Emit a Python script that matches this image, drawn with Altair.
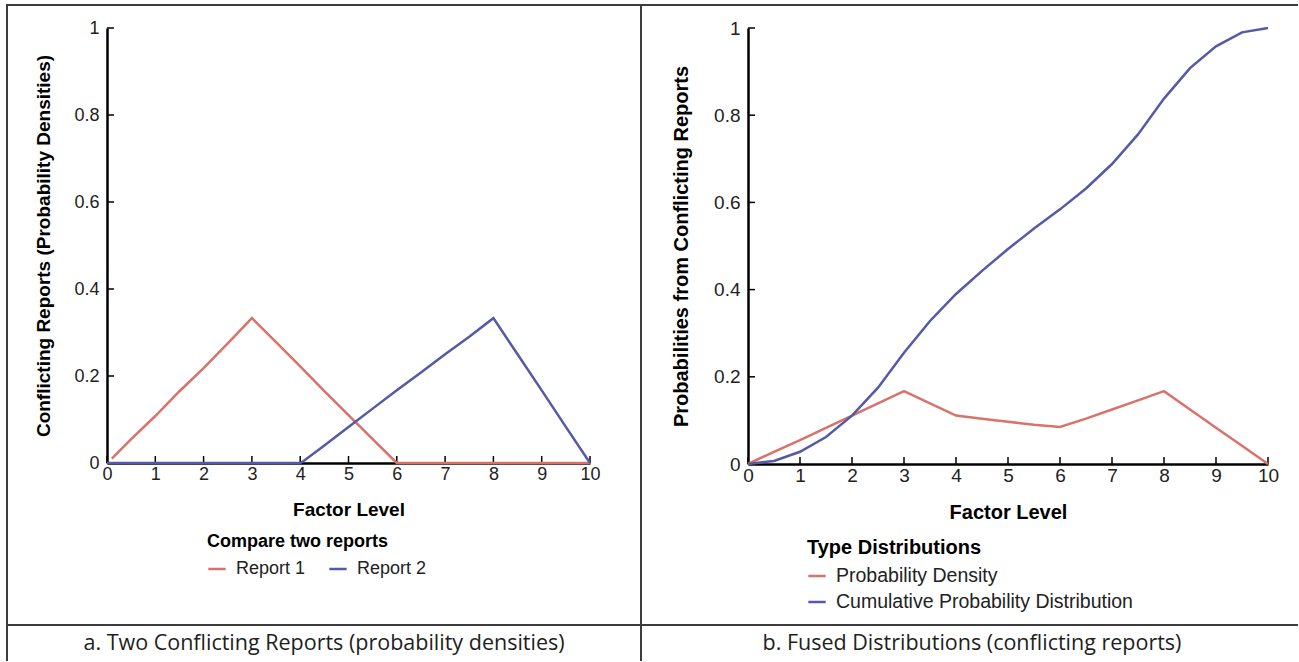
import altair as alt
import pandas as pd

# ---------------- data ----------------
factor_ticks = [0, 1, 2, 3, 4, 5, 6, 7, 8, 9, 10]
prob_ticks = [0, 0.2, 0.4, 0.6, 0.8, 1]

report1_x = [0.1, 0.5, 1, 1.5, 2, 2.5, 3, 3.5, 4, 4.5, 5, 5.5, 6, 7, 8, 9, 10]
report1_y = [0.01, 0.055, 0.108, 0.165, 0.218, 0.275, 0.333, 0.278, 0.222, 0.165, 0.11, 0.055, 0.0, 0, 0, 0, 0]
report2_x = [0, 1, 2, 3, 4, 4.05, 4.5, 5, 5.5, 6, 6.5, 7, 7.5, 8, 8.5, 9, 9.5, 10]
report2_y = [0, 0, 0, 0, 0, 0.003, 0.04, 0.083, 0.125, 0.167, 0.208, 0.25, 0.29, 0.333, 0.25, 0.167, 0.083, 0]

fused_x = [0, 0.5, 1, 1.5, 2, 2.5, 3, 3.5, 4, 4.5, 5, 5.5, 6, 6.5, 7, 7.5, 8, 8.5, 9, 9.5, 10]
density_y = [0, 0.028, 0.055, 0.083, 0.111, 0.139, 0.167, 0.139, 0.111, 0.104, 0.097, 0.09, 0.085,
             0.104, 0.125, 0.146, 0.167, 0.125, 0.083, 0.042, 0]
cumulative_y = [0, 0.007, 0.028, 0.062, 0.111, 0.175, 0.255, 0.328, 0.39, 0.443, 0.493, 0.54, 0.584,
                0.632, 0.688, 0.756, 0.838, 0.908, 0.958, 0.99, 1.0]

series_a = ["Report 1", "Report 2"]
series_b = ["Probability Density", "Cumulative Probability Distribution"]
legend_title_a = "Compare two reports"
legend_title_b = "Type Distributions"
ytitle_a = "Conflicting Reports (Probability Densities)"
ytitle_b = "Probabilities from Conflicting Reports"
xtitle = "Factor Level"
caption_a = "a. Two Conflicting Reports (probability densities)"
caption_b = "b. Fused Distributions (conflicting reports)"

RED = "#d7736a"
BLUE = "#5559a8"
FONT = "Liberation Sans"

df_a = pd.concat([
    pd.DataFrame({"x": report1_x, "y": report1_y, "s": series_a[0]}),
    pd.DataFrame({"x": report2_x, "y": report2_y, "s": series_a[1]}),
])
df_b = pd.concat([
    pd.DataFrame({"x": fused_x, "y": density_y, "s": series_b[0]}),
    pd.DataFrame({"x": fused_x, "y": cumulative_y, "s": series_b[1]}),
])
xt = pd.DataFrame({"t": factor_ticks})
yt = pd.DataFrame({"t": prob_ticks})
one = pd.DataFrame({"a": [0]})


def panel(df, w, h, series, legend_title, ytitle, legend_dir, lx, ly, caption, cap_x,
          fs_label, fs_title, fs_leg_label, fs_leg_title, ytitle_x, xtitle_y, frame=False):
    xs = alt.Scale(domain=[0, 10], nice=False, zero=False)
    ys = alt.Scale(domain=[0, 1], nice=False)
    xaxis = alt.Axis(values=factor_ticks, format="d", ticks=False, tickSize=0, grid=False,
                     labelPadding=2, labelFlush=False, labelOverlap=False,
                     labelFontSize=fs_label, titleFontSize=fs_title,
                     domainColor="black", domainWidth=2.5,
                     title=xtitle, titleX=w / 2, titleY=xtitle_y, titleBaseline="middle")
    yaxis = alt.Axis(values=prob_ticks, format=".1~f", ticks=False, tickSize=0, grid=False,
                     labelPadding=8, labelFlush=False, labelOverlap=False,
                     labelFontSize=fs_label, titleFontSize=fs_title,
                     domainColor="black", domainWidth=2.5,
                     title=ytitle, titleX=ytitle_x, titleY=h / 2, titleAngle=270,
                     titleBaseline="middle")
    lines = alt.Chart(df).mark_line(strokeWidth=2.5, interpolate="linear").encode(
        x=alt.X("x:Q", scale=xs, axis=xaxis),
        y=alt.Y("y:Q", scale=ys, axis=yaxis),
        color=alt.Color("s:N", sort=series,
                        scale=alt.Scale(domain=series, range=[RED, BLUE]),
                        legend=alt.Legend(title=legend_title, orient="none",
                                          direction=legend_dir, legendX=lx, legendY=ly,
                                          symbolType="stroke", symbolSize=300,
                                          symbolStrokeWidth=2.5, labelOffset=9,
                                          columnPadding=18, rowPadding=6, titlePadding=8,
                                          labelFontSize=fs_leg_label,
                                          titleFontSize=fs_leg_title,
                                          padding=0, labelLimit=0, titleLimit=0)),
        detail="s:N",
    )
    xticks = alt.Chart(xt).mark_rule(color="black", strokeWidth=1.5).encode(
        x=alt.X("t:Q", scale=xs), y=alt.value(h), y2=alt.value(h - 7))
    yticks = alt.Chart(yt).mark_rule(color="black", strokeWidth=1.5).encode(
        y=alt.Y("t:Q", scale=ys), x=alt.value(0), x2=alt.value(7))
    cap = alt.Chart(one).mark_text(font="Open Sans", fontSize=21.5, color="#1e1e1e",
                                   align="center", baseline="middle").encode(
        x=alt.value(cap_x), y=alt.value(616), text=alt.value(caption))
    layers = [xticks, yticks, lines, cap]
    if frame:
        fc, fw = "#3c3c3c", 2
        layers += [
            alt.Chart(one).mark_rule(color=fc, strokeWidth=fw).encode(
                x=alt.value(-101), x2=alt.value(1191), y=alt.value(-23)),
            alt.Chart(one).mark_rule(color=fc, strokeWidth=fw).encode(
                x=alt.value(-101), x2=alt.value(1191), y=alt.value(597)),
            alt.Chart(one).mark_rule(color=fc, strokeWidth=fw).encode(
                x=alt.value(-100), y=alt.value(-24), y2=alt.value(633)),
            alt.Chart(one).mark_rule(color=fc, strokeWidth=fw).encode(
                x=alt.value(534), y=alt.value(-24), y2=alt.value(633)),
        ]
    return alt.layer(*layers).properties(width=w, height=h)


pa = panel(df_a, 483, 435, series_a, legend_title_a, ytitle_a, "horizontal", 100, 505,
           caption_a, 217, 18, 19, 18, 18, -64, 46, frame=True)
pb = panel(df_b, 520, 436, series_b, legend_title_b, ytitle_b, "vertical", 59, 510,
           caption_b, 224, 19, 20, 19.5, 20, -67, 48)

chart = alt.hconcat(pa, pb, spacing=158, bounds="flush").resolve_scale(
    color="independent").resolve_legend(color="independent").properties(
    padding={"left": 5, "top": 3, "right": 0, "bottom": 0},
    background="white",
).configure_view(stroke=None).configure_axis(
    labelFont=FONT, labelColor="#222222",
    titleFont=FONT, titleFontWeight="bold", titleColor="black",
).configure_legend(
    titleFont=FONT, titleFontWeight="bold", titleColor="black",
    labelFont=FONT, labelColor="#222222",
)

chart.save("out.html", embed_options={"renderer": "svg", "actions": False})
